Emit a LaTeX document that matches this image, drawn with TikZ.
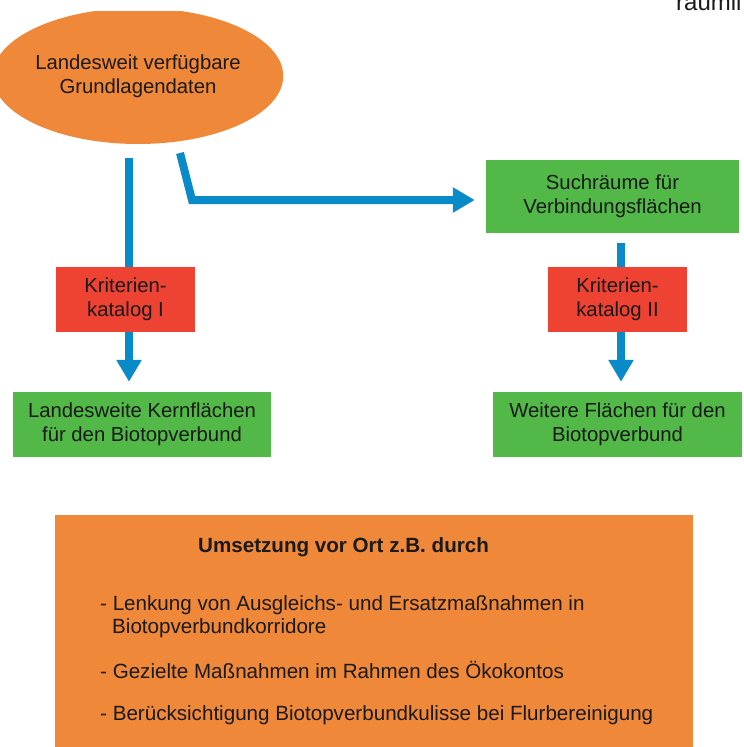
\documentclass[tikz,border=0pt]{standalone}
\usepackage{fontspec}
\setmainfont{Liberation Sans}
\usetikzlibrary{arrows.meta,positioning,shapes.geometric}
\definecolor{gborange}{HTML}{F0883A}
\definecolor{gbgreen}{HTML}{52B848}
\definecolor{gbred}{HTML}{EE4232}
\definecolor{gbblue}{HTML}{0A8BC9}
\definecolor{gbtext}{HTML}{1A1A1A}

\tikzset{
  boxtext/.style={font=\fontsize{20.3}{24}\selectfont, text=gbtext, align=center, inner sep=0pt},
  greenbox/.style={boxtext, fill=gbgreen},
  redbox/.style={boxtext, fill=gbred, minimum width=139pt, minimum height=65pt},
  flowline/.style={draw=gbblue, line width=8pt, line join=miter},
  flowarrow/.style={flowline, -{Triangle[length=22pt, width=24pt]}},
  itemtext/.style={font=\fontsize{20.6}{24}\selectfont, text=gbtext, inner sep=0pt, anchor=base west}
}

\begin{document}
\begin{tikzpicture}[x=1pt, y=-1pt]

  % ---- Frame ----
  \useasboundingbox (0,0) rectangle (744,747);
  \clip (0,0) rectangle (744,747);
  \fill[white] (0,0) rectangle (744,747);

  % ---- Cut-off heading (top right) ----
  \node[font=\fontsize{24}{28}\selectfont, text=gbtext, inner sep=0pt, anchor=base west]
    (kopfzeile) at (676,10) {räumli};

  % ---- Grundlagendaten (ellipse, cut at the top) ----
  \begin{scope}
    \clip (0,11) rectangle (744,747);
    \node[boxtext, ellipse, fill=gborange, minimum width=264pt, minimum height=136pt]
      (grund) at (138,76) {Landesweit verfügbare\\Grundlagendaten};
  \end{scope}

  % ---- Boxes ----
  \node[greenbox, minimum width=253pt, minimum height=73pt]
    (such) at (612.5,196.5) {Suchräume für\\Verbindungsflächen};
  \node[redbox] (kat1) at (125.5,299.5) {Kriterien-\\katalog I};
  \node[redbox] (kat2) at (617.5,299.5) {Kriterien-\\katalog II};
  \node[greenbox, minimum width=258pt, minimum height=65pt]
    (kern) at (142,424.5) {Landesweite Kernflächen\\für den Biotopverbund};
  \node[greenbox, minimum width=249pt, minimum height=65pt]
    (weiter) at (617.5,424.5) {Weitere Flächen für den\\Biotopverbund};

  % ---- Arrows ----
  \coordinate (lline) at (129,0);
  \coordinate (rline) at (621,0);
  \coordinate (bstart) at (180,153);
  \coordinate (bknick) at (192,200);
  % left branch
  \draw[flowline, shorten <=14pt] (lline |- grund.south) -- (lline |- kat1.north);
  \draw[flowarrow, shorten >=10pt] (lline |- kat1.south) -- (lline |- kern.north);
  % right branch
  \draw[flowarrow, shorten >=11pt] (bstart) -- (bknick) -- (such.west |- bknick);
  \draw[flowline, shorten <=10pt] (rline |- such.south) -- (rline |- kat2.north);
  \draw[flowarrow, shorten >=10pt] (rline |- kat2.south) -- (rline |- weiter.north);

  % ---- Umsetzung (bottom box) ----
  \node[fill=gborange, minimum width=638pt, minimum height=232pt, inner sep=0pt]
    (umsetzung) at (374,631) {};
  \node[itemtext, font=\fontsize{20.6}{24}\selectfont\bfseries]
    (ukopf) at (198,552) {Umsetzung vor Ort z.B. durch};
  \node[itemtext] (lenkung) at (100,610) {- Lenkung von Ausgleichs- und Ersatzmaßnahmen in};
  \node[itemtext] (korridore) at (112,633) {Biotopverbundkorridore};
  \node[itemtext] (gezielt) at (100,678) {- Gezielte Maßnahmen im Rahmen des Ökokontos};
  \node[itemtext] (flur) at (100,720) {- Berücksichtigung Biotopverbundkulisse bei Flurbereinigung};

\end{tikzpicture}
\end{document}
